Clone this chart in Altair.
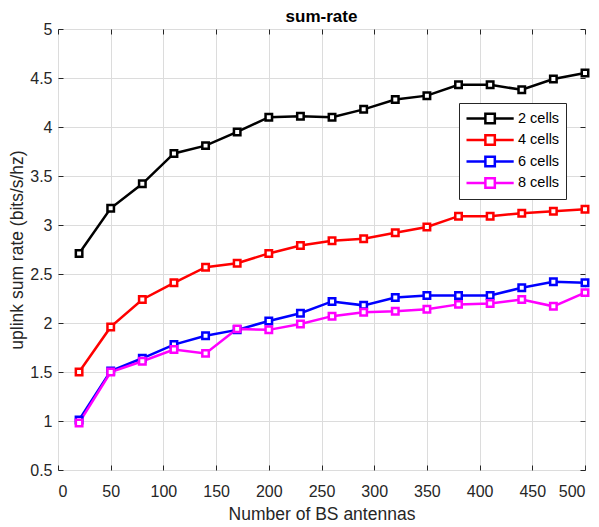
import altair as alt
import pandas as pd

antennas = [20, 50, 80, 110, 140, 170, 200, 230, 260, 290, 320, 350, 380, 410, 440, 470, 500]
cells2 = [2.71, 3.17, 3.42, 3.73, 3.81, 3.95, 4.10, 4.11, 4.10, 4.18, 4.28, 4.32, 4.43, 4.43, 4.38, 4.49, 4.55]
cells4 = [1.50, 1.96, 2.24, 2.41, 2.57, 2.61, 2.71, 2.79, 2.84, 2.86, 2.92, 2.98, 3.09, 3.09, 3.12, 3.14, 3.16]
cells6 = [1.01, 1.51, 1.64, 1.78, 1.87, 1.93, 2.02, 2.10, 2.22, 2.18, 2.26, 2.28, 2.28, 2.28, 2.36, 2.42, 2.41]
cells8 = [0.98, 1.50, 1.61, 1.73, 1.69, 1.94, 1.93, 1.99, 2.07, 2.11, 2.12, 2.14, 2.19, 2.20, 2.24, 2.17, 2.31]

series_names = ["2 cells", "4 cells", "6 cells", "8 cells"]
series_colors = ["#000000", "#FF0000", "#0000FF", "#FF00FF"]
x_ticks = [0, 50, 100, 150, 200, 250, 300, 350, 400, 450, 500]
y_ticks = [0.5, 1, 1.5, 2, 2.5, 3, 3.5, 4, 4.5, 5]

rows = []
for name, vals in zip(series_names, [cells2, cells4, cells6, cells8]):
    for i, (a, v) in enumerate(zip(antennas, vals)):
        rows.append({"antennas": a, "rate": v, "series": name, "order": i})
df = pd.DataFrame(rows)

FONT = "Liberation Sans"
AX = "#262626"
GRID = "#dcdcdc"

xscale = alt.Scale(domain=[0, 500], nice=False, zero=False)
yscale = alt.Scale(domain=[0.5, 5], nice=False, zero=False)
cscale = alt.Scale(domain=series_names, range=series_colors)

legend_symbol = "M-1,0L1.36,0M2.54,0L4.9,0M1.36,-0.59L2.54,-0.59L2.54,0.59L1.36,0.59Z"

lines = alt.Chart(df).mark_line(strokeWidth=2.5).encode(
    x=alt.X("antennas:Q", scale=xscale,
            axis=alt.Axis(values=x_ticks, grid=True, gridColor=GRID, ticks=False, domain=False,
                          labelFontSize=16, labelColor=AX, labelPadding=13, labelFont=FONT,
                          title="Number of BS antennas", titleFontSize=17.5, titleFont=FONT,
                          titleFontWeight="normal", titleColor=AX, titlePadding=6)),
    y=alt.Y("rate:Q", scale=yscale,
            axis=alt.Axis(values=y_ticks, format="~g", grid=True, gridColor=GRID, ticks=False,
                          domain=False, labelFontSize=16, labelColor=AX, labelPadding=6,
                          labelFont=FONT,
                          title="uplink sum rate (bits/s/hz)", titleFontSize=17.5, titleFont=FONT,
                          titleFontWeight="normal", titleColor=AX, titlePadding=3)),
    color=alt.Color("series:N", scale=cscale,
                    legend=alt.Legend(title=None, orient="none", legendX=401, legendY=74,
                                      symbolType=legend_symbol, symbolSize=256,
                                      symbolStrokeWidth=2.5, symbolFillColor="white",
                                      labelFontSize=14.5, labelFont=FONT, labelColor="#000000",
                                      labelOffset=34, rowPadding=0.5, padding=6,
                                      fillColor="white", strokeColor=AX)),
    order="order:Q",
)

points = alt.Chart(df).mark_point(shape="square", size=42, strokeWidth=2.5, filled=False,
                                  fill="white", fillOpacity=1, opacity=1).encode(
    x=alt.X("antennas:Q", scale=xscale,
            axis=alt.Axis(values=x_ticks, orient="bottom", offset=-5, tickSize=5, ticks=True,
                          tickColor=AX, labels=False, grid=False, domain=False, title=None)),
    y=alt.Y("rate:Q", scale=yscale,
            axis=alt.Axis(values=y_ticks, orient="left", offset=-5, tickSize=5, ticks=True,
                          tickColor=AX, labels=False, grid=False, domain=False, title=None)),
    color=alt.Color("series:N", scale=cscale, legend=None),
)

ticks_tr = alt.Chart(df).mark_point(opacity=0).encode(
    x=alt.X("antennas:Q", scale=xscale,
            axis=alt.Axis(values=x_ticks, orient="top", offset=-5, tickSize=5, ticks=True,
                          tickColor=AX, labels=False, grid=False, domain=False, title=None)),
    y=alt.Y("rate:Q", scale=yscale,
            axis=alt.Axis(values=y_ticks, orient="right", offset=-5, tickSize=5, ticks=True,
                          tickColor=AX, labels=False, grid=False, domain=False, title=None)),
)

chart = alt.layer(lines, points, ticks_tr).resolve_axis(
    x="independent", y="independent"
).properties(
    width=527, height=441,
    padding={"left": 50, "top": 21, "right": 6, "bottom": 57},
    autosize=alt.AutoSizeParams(type="none"),
    title=alt.TitleParams("sum-rate", fontSize=17, fontWeight="bold", font=FONT,
                          color="#000000", anchor="middle", offset=-5),
).configure_view(stroke=AX, strokeWidth=1).configure(background="white")

chart.save("out.html", embed_options={"renderer": "svg", "actions": False})
